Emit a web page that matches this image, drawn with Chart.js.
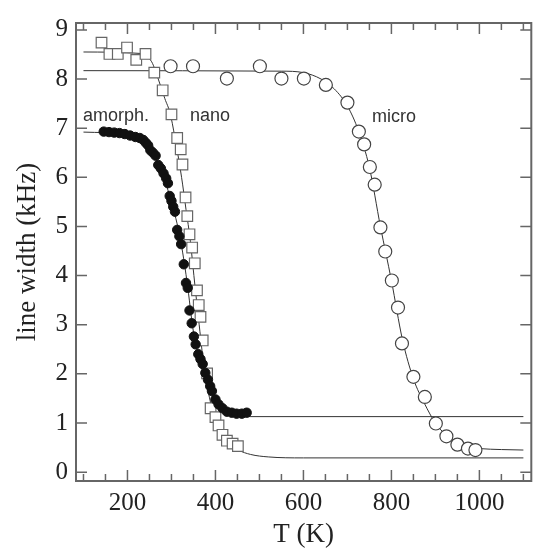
<!DOCTYPE html>
<html><head><meta charset="utf-8">
<script src="https://cdn.jsdelivr.net/npm/chart.js@4.4.1/dist/chart.umd.min.js"></script>
<style>html,body{margin:0;padding:0;background:#fff}#wrap{width:540px;height:552px}</style>
</head><body><div id="wrap"><canvas id="c" width="540" height="552"></canvas></div>
<script>
// ---- data ----
const xTicks = [200, 400, 600, 800, 1000];
const yTicks = [0, 1, 2, 3, 4, 5, 6, 7, 8, 9];

// nano (open squares)
const nanoT = [141,159,178,199,220,241,261,280,300,313,321,325,332,336,341,347,353,358,362,366,371,381,389,400,407,416,426,439,451];
const nanoW = [8.74,8.51,8.51,8.64,8.39,8.51,8.13,7.77,7.28,6.80,6.57,6.26,5.59,5.21,4.84,4.57,4.25,3.70,3.40,3.16,2.68,2.01,1.30,1.12,0.95,0.76,0.64,0.58,0.53];
// amorphous (filled circles)
const amT = [146,158,170,182,194,206,218,228,236,242,247,252,258,264,270,276,282,288,292,296,300,304,308,313,318,322,328,333,337,341,346,351,355,361,366,371,377,383,388,392,400,407,416,426,437,448,460,471];
const amW = [6.93,6.92,6.91,6.90,6.88,6.85,6.82,6.80,6.76,6.70,6.65,6.55,6.50,6.44,6.25,6.18,6.08,5.98,5.88,5.62,5.52,5.40,5.30,4.93,4.80,4.64,4.23,3.85,3.75,3.29,3.03,2.76,2.60,2.40,2.30,2.20,2.02,1.88,1.75,1.65,1.48,1.38,1.30,1.23,1.21,1.19,1.19,1.21];
// micro (open circles)
const miT = [298,349,426,501,550,601,651,700,726,738,751,762,775,786,801,815,824,850,876,901,925,950,974,991];
const miW = [8.26,8.26,8.01,8.26,8.01,8.01,7.88,7.52,6.93,6.67,6.21,5.85,4.98,4.49,3.90,3.35,2.62,1.94,1.53,0.99,0.73,0.56,0.48,0.45];

// fit curves
const nanoFitT = [100,230,255,270,285,297,310,323,333,343,351,363,376,388,400,412,425,452,480,520,600,1100];
const nanoFitW = [8.55,8.52,8.35,8.0,7.6,7.3,6.7,6.0,5.35,4.7,4.0,3.0,2.0,1.45,1.0,0.78,0.62,0.45,0.36,0.31,0.29,0.29];
const amFitT = [100,200,240,260,280,300,320,335,350,365,380,400,420,440,470,1100];
const amFitW = [6.92,6.87,6.72,6.45,6.05,5.5,4.75,3.9,2.85,2.25,1.85,1.45,1.25,1.16,1.13,1.13];
const miFitT = [100,550,600,640,670,700,725,750,775,800,825,850,875,900,925,950,975,1000,1050,1100];
const miFitW = [8.17,8.16,8.13,8.0,7.8,7.45,6.95,6.2,5.0,3.9,2.7,1.9,1.4,1.0,0.75,0.6,0.51,0.48,0.46,0.45];

const annotations = [
  {text:'amorph.', T:99, W:7.25},
  {text:'nano', T:342, W:7.25},
  {text:'micro', T:756, W:7.23}
];

const pts = (xs, ys) => xs.map((x, i) => ({x: x, y: ys[i]}));

const framePlugin = {
  id: 'frame',
  beforeDatasetsDraw(chart) {
    const {ctx, chartArea: a, scales: {x, y}} = chart;
    ctx.save();
    ctx.strokeStyle = '#666';
    ctx.lineWidth = 1.5;
    ctx.beginPath();
    for (let v = 100; v <= 1100; v += 50) {
      const px = x.getPixelForValue(v);
      const len = xTicks.includes(v) ? 11 : 7;
      ctx.moveTo(px, a.bottom); ctx.lineTo(px, a.bottom - len);
      ctx.moveTo(px, a.top); ctx.lineTo(px, a.top + len);
    }
    for (const v of yTicks) {
      const py = y.getPixelForValue(v);
      ctx.moveTo(a.left, py); ctx.lineTo(a.left + 11, py);
      ctx.moveTo(a.right, py); ctx.lineTo(a.right - 11, py);
    }
    ctx.stroke();
    ctx.lineWidth = 2;
    ctx.strokeRect(a.left, a.top, a.right - a.left, a.bottom - a.top);
    ctx.restore();
  },
  afterDatasetsDraw(chart) {
    const {ctx, scales: {x, y}} = chart;
    ctx.save();
    ctx.fillStyle = '#333';
    ctx.font = '18px "Liberation Sans", Arial, sans-serif';
    ctx.textAlign = 'left';
    ctx.textBaseline = 'middle';
    for (const an of annotations) {
      ctx.fillText(an.text, x.getPixelForValue(an.T), y.getPixelForValue(an.W));
    }
    ctx.restore();
  }
};

const lineDs = (xs, ys) => ({
  type: 'line', data: pts(xs, ys), borderColor: '#333', borderWidth: 1,
  pointRadius: 0, cubicInterpolationMode: 'monotone', fill: false, order: 2
});

new Chart(document.getElementById('c'), {
  type: 'scatter',
  data: {
    datasets: [
      {label: 'amorph.', data: pts(amT, amW), pointStyle: 'circle', pointRadius: 4.7,
       backgroundColor: '#111', borderColor: '#111', borderWidth: 1, order: 0},
      {label: 'nano', data: pts(nanoT, nanoW), pointStyle: 'rect', pointRadius: 7.5,
       backgroundColor: '#fff', borderColor: '#666', borderWidth: 1.2, order: 1},
      {label: 'micro', data: pts(miT, miW), pointStyle: 'circle', pointRadius: 6.5,
       backgroundColor: '#fff', borderColor: '#444', borderWidth: 1.2, order: 1},
      lineDs(nanoFitT, nanoFitW),
      lineDs(amFitT, amFitW),
      lineDs(miFitT, miFitW)
    ]
  },
  options: {
    responsive: false, animation: false, events: [],
    layout: {padding: {top: 8, right: 4, left: 0, bottom: 0}},
    plugins: {legend: {display: false}, tooltip: {enabled: false}},
    scales: {
      x: {
        type: 'linear', min: 83, max: 1118,
        afterBuildTicks: s => { s.ticks = xTicks.map(v => ({value: v})); },
        afterFit: s => { s.height = 71; },
        grid: {display: false, drawTicks: false}, border: {display: false},
        ticks: {font: {family: 'Liberation Serif', size: 25}, color: '#222', padding: 7, maxRotation: 0, autoSkip: false,
                callback: v => String(v)},
        title: {display: true, text: 'T (K)', font: {family: 'Liberation Serif', size: 27}, color: '#222', padding: {top: 0, bottom: 1}}
      },
      y: {
        type: 'linear', min: -0.18, max: 9.14,
        afterBuildTicks: s => { s.ticks = yTicks.map(v => ({value: v})); },
        afterFit: s => { s.width = 76; },
        grid: {display: false, drawTicks: false}, border: {display: false},
        ticks: {font: {family: 'Liberation Serif', size: 25}, color: '#222', padding: 8, autoSkip: false,
                callback: v => String(v)},
        title: {display: true, text: 'line width (kHz)', font: {family: 'Liberation Serif', size: 27}, color: '#222', padding: {top: 12, bottom: 0}}
      }
    }
  },
  plugins: [framePlugin]
});
</script>
</body></html>
